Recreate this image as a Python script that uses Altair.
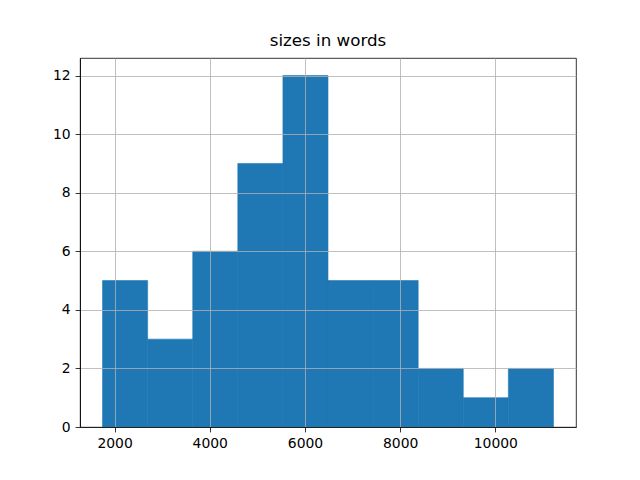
import altair as alt
import pandas as pd

edges = [1747, 2694, 3642, 4589, 5537, 6484, 7431, 8379, 9326, 10274, 11221]
counts = [5, 3, 6, 9, 12, 5, 5, 2, 1, 2]
x_ticks = [2000, 4000, 6000, 8000, 10000]
y_ticks = [0, 2, 4, 6, 8, 10, 12]

df = pd.DataFrame({
    "start": edges[:-1],
    "end": edges[1:],
    "count": counts,
    "base": [0] * len(counts),
})

font = "DejaVu Sans"
common_axis = dict(
    format="d", title=None, grid=True,
    gridColor="#b0b0b0", gridWidth=0.8, domain=True,
    domainColor="black", domainWidth=0.8,
    tickColor="black", tickSize=4.9, tickWidth=0.8,
    labelFont=font, labelFontSize=13.9, labelColor="black",
    labelPadding=4.9, zindex=1,
)

chart = alt.Chart(df).mark_bar(color="#1f77b4", stroke="#1f77b4", strokeWidth=0.6,
                               orient="vertical").encode(
    x=alt.X("start:Q", scale=alt.Scale(domain=[1273, 11695], nice=False, zero=False, padding=0),
            axis=alt.Axis(values=x_ticks, **common_axis)),
    x2="end:Q",
    y=alt.Y("count:Q", scale=alt.Scale(domain=[0, 12.6], nice=False, padding=0),
            axis=alt.Axis(values=y_ticks, **common_axis)),
    y2="base:Q",
).properties(
    width=496,
    height=369,
    title=alt.TitleParams("sizes in words", font=font, fontSize=16.7, fontWeight="normal",
                          color="black", offset=8),
    autosize=alt.AutoSizeParams(type="none"),
    padding={"left": 72, "top": 50, "right": 56, "bottom": 45},
).configure_view(stroke="black", strokeWidth=0.8)

chart.save("out.html", embed_options={"renderer": "svg", "actions": False})
